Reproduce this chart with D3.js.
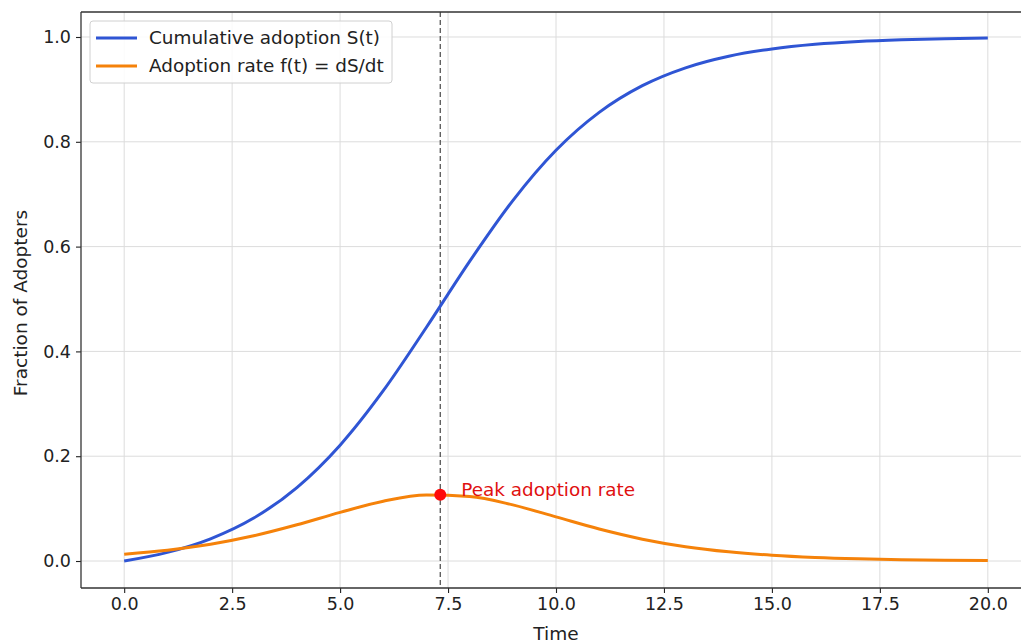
<!DOCTYPE html>
<html><head><meta charset="utf-8">
<script src="https://cdn.jsdelivr.net/npm/d3@7"></script>
<style>
html,body{margin:0;padding:0;background:#fff;overflow:hidden}
svg{display:block;font-family:"DejaVu Sans",sans-serif}
</style></head>
<body>
<svg id="c" width="1021" height="642"></svg>
<script>
const timeValues = [0,1,2,3,4,5,6,7,8,9,10,11,12,13,14,15,16,17,18,19,20];
const cumulative = [0.0,0.0165,0.0424,0.0820,0.1402,0.2211,0.3250,0.4461,0.5718,0.6878,0.7838,0.8561,0.9071,0.9412,0.9633,0.9772,0.9860,0.9914,0.9947,0.9968,0.9980];
const rate = [0.0130,0.0206,0.0320,0.0481,0.0691,0.0928,0.1141,0.1258,0.1231,0.1071,0.0842,0.0610,0.0417,0.0273,0.0175,0.0110,0.0068,0.0042,0.0026,0.0016,0.0010];
const peakTime = 7.32;
const peakRate = 0.1266;
const xTicks = [0,2.5,5,7.5,10,12.5,15,17.5,20];
const yTicks = [0,0.2,0.4,0.6,0.8,1.0];
const seriesNames = ["Cumulative adoption S(t)","Adoption rate f(t) = dS/dt"];
const peakLabel = "Peak adoption rate";

const svg = d3.select("#c");
const L = 81, R = 1031, T = 12, B = 588;
const x = d3.scaleLinear().domain([-1,21]).range([L,R]);
const y = d3.scaleLinear().domain([-0.0515,1.0477]).range([B,T]);

const blue = "#2f55d4", orange = "#f5820a";
const FS = 17.5, FL = 18.4;

// grid
const g = svg.append("g");
g.selectAll("line.gx").data(xTicks).join("line")
  .attr("x1",d=>x(d)).attr("x2",d=>x(d)).attr("y1",T).attr("y2",B)
  .attr("stroke","#dcdcdc").attr("stroke-width",1);
g.selectAll("line.gy").data(yTicks).join("line")
  .attr("y1",d=>y(d)).attr("y2",d=>y(d)).attr("x1",L).attr("x2",R)
  .attr("stroke","#dcdcdc").attr("stroke-width",1);

// peak vertical dashed line
svg.append("line").attr("x1",x(peakTime)).attr("x2",x(peakTime)).attr("y1",T).attr("y2",B)
  .attr("stroke","#555").attr("stroke-width",1.3).attr("stroke-dasharray","5,3");

const data = timeValues.map((t,i)=>({t,s:cumulative[i],f:rate[i]}));
const lineS = d3.line().x(d=>x(d.t)).y(d=>y(d.s)).curve(d3.curveMonotoneX);
const lineF = d3.line().x(d=>x(d.t)).y(d=>y(d.f)).curve(d3.curveMonotoneX);
svg.append("path").datum(data).attr("d",lineS).attr("fill","none").attr("stroke",blue).attr("stroke-width",3);
svg.append("path").datum(data).attr("d",lineF).attr("fill","none").attr("stroke",orange).attr("stroke-width",3);

// peak marker
svg.append("circle").attr("cx",x(peakTime)).attr("cy",y(peakRate)).attr("r",6).attr("fill","#ff0a0a");
svg.append("text").attr("x",x(peakTime)+21).attr("y",y(peakRate)+1)
  .attr("fill","#e01010").attr("font-size",FL).text(peakLabel);

// axes
const xAxis = d3.axisBottom(x).tickValues(xTicks).tickFormat(d3.format(".1f")).tickSizeOuter(0).tickSize(5).tickPadding(5);
const yAxis = d3.axisLeft(y).tickValues(yTicks).tickFormat(d3.format(".1f")).tickSizeOuter(0).tickSize(5).tickPadding(5);
const gx = svg.append("g").attr("transform",`translate(0,${B})`).call(xAxis);
const gy = svg.append("g").attr("transform",`translate(${L},0)`).call(yAxis);
[gx,gy].forEach(a=>{
  a.select(".domain").remove();
  a.selectAll("text").attr("font-size",FS).attr("fill","#222").style("font-family","DejaVu Sans");
  a.selectAll("line").attr("stroke","#222").attr("stroke-width",1.1);
});
// spines
svg.append("line").attr("x1",L).attr("x2",L).attr("y1",T).attr("y2",B).attr("stroke","#333").attr("stroke-width",1.3);
svg.append("line").attr("x1",L).attr("x2",R).attr("y1",B).attr("y2",B).attr("stroke","#333").attr("stroke-width",1.3);
svg.append("line").attr("x1",L).attr("x2",R).attr("y1",T).attr("y2",T).attr("stroke","#333").attr("stroke-width",1.3);

// axis labels
svg.append("text").attr("x",556).attr("y",640).attr("text-anchor","middle")
  .attr("font-size",18.5).attr("fill","#222").text("Time");
svg.append("text").attr("transform",`translate(27,303) rotate(-90)`).attr("text-anchor","middle")
  .attr("font-size",18.5).attr("fill","#222").text("Fraction of Adopters");

// legend
const lg = svg.append("g").attr("transform","translate(90,21)");
lg.append("rect").attr("width",302).attr("height",62).attr("rx",3).attr("fill","#fff").attr("fill-opacity",0.85)
  .attr("stroke","#d0d0d0").attr("stroke-width",1);
[blue,orange].forEach((c,i)=>{
  lg.append("line").attr("x1",6).attr("x2",47).attr("y1",17+i*28).attr("y2",17+i*28).attr("stroke",c).attr("stroke-width",3);
  lg.append("text").attr("x",59).attr("y",23+i*28).attr("font-size",FL).attr("fill","#222").text(seriesNames[i]);
});
</script>
</body></html>
